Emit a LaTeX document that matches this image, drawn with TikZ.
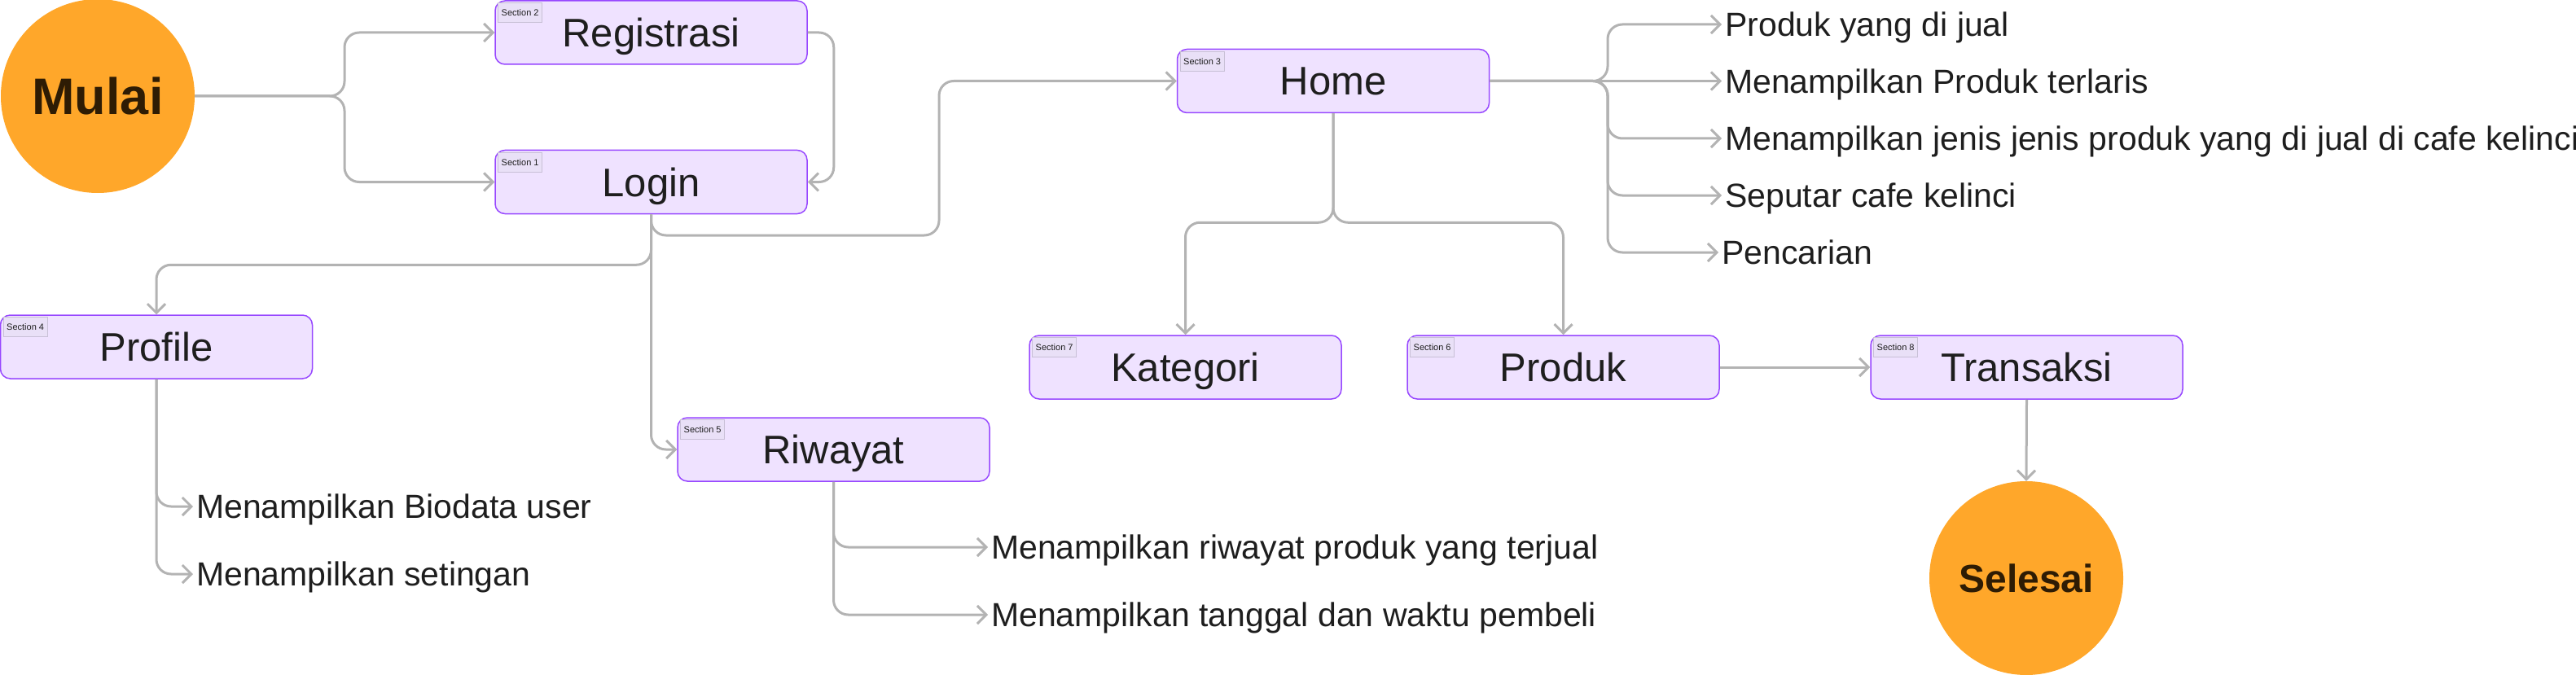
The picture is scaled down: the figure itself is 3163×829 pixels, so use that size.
\documentclass[tikz,border=0pt]{standalone}
\usepackage{fontspec}
\setmainfont{Liberation Sans}
\usetikzlibrary{arrows.meta,positioning}
\definecolor{boxfill}{RGB}{239,226,255}
\definecolor{boxbdr}{RGB}{151,71,255}
\definecolor{lblfill}{RGB}{233,224,247}
\definecolor{lblbdr}{RGB}{200,192,214}
\definecolor{lineclr}{RGB}{179,179,179}
\definecolor{endfill}{RGB}{255,167,42}
\definecolor{endtxt}{RGB}{46,28,4}
\definecolor{txtclr}{RGB}{30,30,30}
\tikzset{
  secbox/.style={rectangle,rounded corners=12pt,draw=boxbdr,fill=boxfill,
    line width=1.5pt,minimum width=383pt,minimum height=78pt,
    font=\fontsize{49}{55}\selectfont,text=txtclr,
    text height=35pt,text depth=0pt},
  seclbl/.style={rectangle,draw=lblbdr,fill=lblfill,line width=0.8pt,
    minimum width=54pt,minimum height=24pt,inner xsep=3pt,inner ysep=2pt,
    font=\fontsize{11}{13}\selectfont,text=txtclr},
  endpt/.style={circle,fill=endfill,minimum size=238pt,inner sep=0pt,
    font=\bfseries\fontsize{63}{70}\selectfont,text=endtxt,
    text height=45pt,text depth=0pt},
  leaf/.style={anchor=west,inner sep=4pt,
    font=\fontsize{41}{47}\selectfont,text=txtclr,
    text height=29.5pt,text depth=0pt},
  conn/.style={line width=3pt,draw=lineclr,rounded corners=18pt,
    -{Straight Barb[length=11pt,width=22pt]}},
}
\begin{document}
\begin{tikzpicture}[x=1pt,y=1pt]
  \useasboundingbox (0,0) rectangle (3163,-829);

  \node[endpt] (mulai) at (120,-118) {Mulai};
  \node[secbox] (reg)   at (799.5,-40)  {Registrasi};
  \node[secbox,below=104pt of reg] (login) {Login};
  \node[secbox] (home)  at (1637,-99.5) {Home};
  \node[secbox] (prof)  at (192,-426)   {Profile};
  \node[secbox] (riw)   at (1023.5,-552) {Riwayat};
  \node[secbox] (kat)   at (1455.5,-451) {Kategori};
  \node[secbox] (prod)  at (1919.5,-451) {Produk};
  \node[secbox] (trans) at (2488.5,-451) {Transaksi};
  \node[endpt,font=\bfseries\fontsize{48}{54}\selectfont,text height=34pt]
    (selesai) at (2488,-710) {Selesai};

  % section tags
  \node[seclbl,below right=3pt and 4pt of reg.north west]   (sreg)   {Section 2};
  \node[seclbl,below right=3pt and 4pt of login.north west] (slogin) {Section 1};
  \node[seclbl,below right=3pt and 4pt of home.north west]  (shome)  {Section 3};
  \node[seclbl,below right=3pt and 4pt of prof.north west]  (sprof)  {Section 4};
  \node[seclbl,below right=3pt and 4pt of riw.north west]   (sriw)   {Section 5};
  \node[seclbl,below right=3pt and 4pt of prod.north west]  (sprod)  {Section 6};
  \node[seclbl,below right=3pt and 4pt of kat.north west]   (skat)   {Section 7};
  \node[seclbl,below right=3pt and 4pt of trans.north west] (strans) {Section 8};

  \node[leaf] (hm1) at (2114,-30)  {Produk yang di jual};
  \node[leaf] (hm2) at (2114,-99.5) {Menampilkan Produk terlaris};
  \node[leaf] (hm3) at (2114,-170) {Menampilkan jenis jenis produk yang di jual di cafe kelinci};
  \node[leaf] (hm4) at (2114,-240) {Seputar cafe kelinci};
  \node[leaf] (hm5) at (2110,-310) {Pencarian};
  \node[leaf] (pf1) at (237,-622)  {Menampilkan Biodata user};
  \node[leaf] (pf2) at (237,-705)  {Menampilkan setingan};
  \node[leaf] (rw1) at (1213,-672) {Menampilkan riwayat produk yang terjual};
  \node[leaf] (rw2) at (1213,-755) {Menampilkan tanggal dan waktu pembeli};

  \coordinate (mfork)  at (423,-118);
  \coordinate (hfork)  at (1974,-99.5);
  \coordinate (lhturn) at (1153,-289);

  \draw[conn] (mulai.east) -- (mfork) |- (reg.west);
  \draw[conn] (mulai.east) -- (mfork) |- (login.west);
  \draw[conn] (reg.east) -- ++(32,0) |- (login.east);
  \draw[conn] (login.south) |- (lhturn) |- (home.west);
  \draw[conn] (login.south) -- ++(0,-62) -| (prof.north);
  \draw[conn] (login.south) |- (riw.west);

  \draw[conn] (home.east) -- (hfork) |- (hm1.west);
  \draw[conn] (home.east) -- (hm2.west);
  \foreach \t in {hm3,hm4,hm5}
    \draw[conn] (home.east) -- (hfork) |- (\t.west);
  \draw[conn] (home.south) -- ++(0,-134) -| (kat.north);
  \draw[conn] (home.south) -- ++(0,-134) -| (prod.north);

  \draw[conn] (prof.south) |- (pf1.west);
  \draw[conn] (prof.south) |- (pf2.west);
  \draw[conn] (riw.south) |- (rw1.west);
  \draw[conn] (riw.south) |- (rw2.west);

  \draw[conn] (prod.east) -- (trans.west);
  \draw[conn] (trans.south) -- (selesai.north);

\end{tikzpicture}
\end{document}
